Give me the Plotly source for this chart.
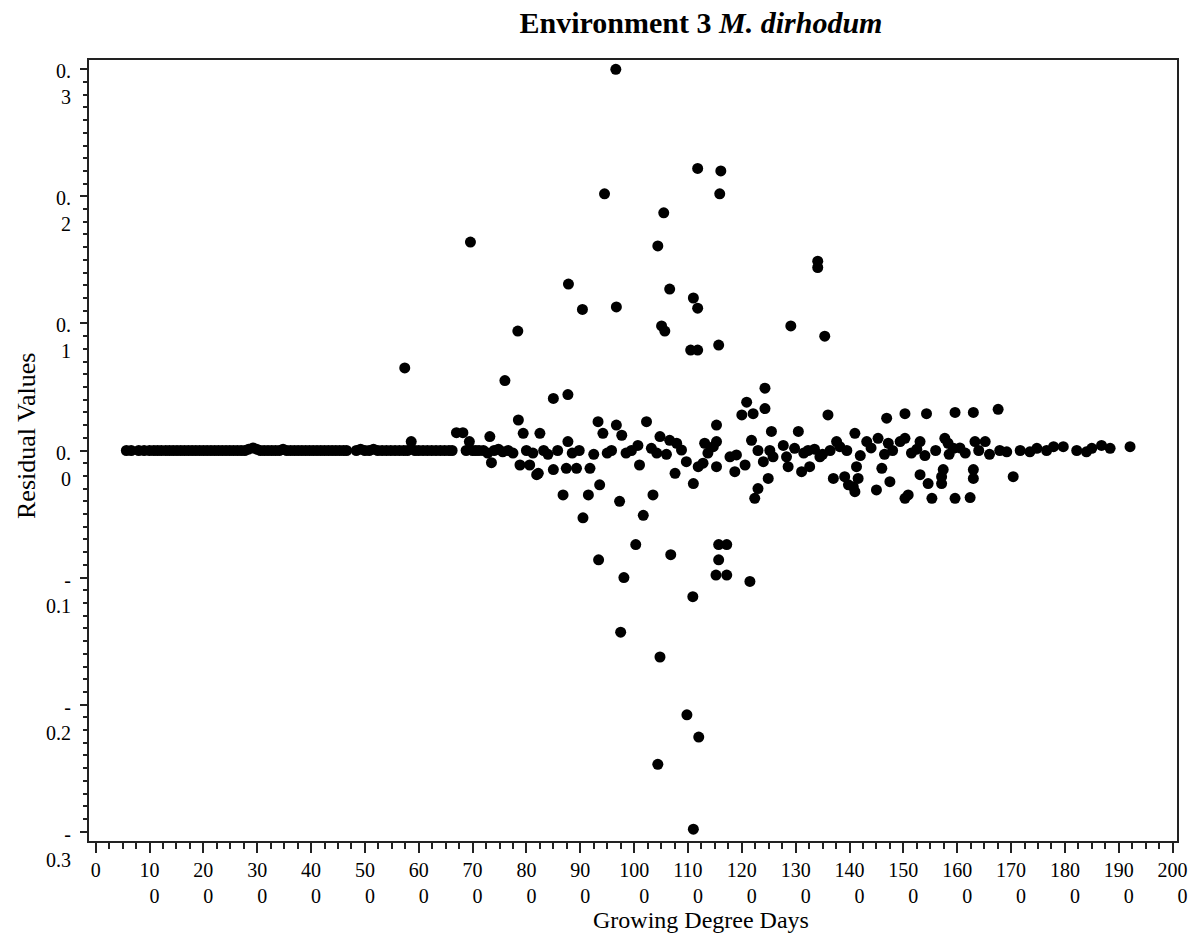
import plotly.graph_objects as go

# Growing degree days (x) and residual values (y)
gdd = [
    57, 66, 80, 90, 100, 108, 115, 122, 130, 137, 144, 151, 158, 165, 172, 179, 186, 193, 200, 207,
    214, 221, 228, 235, 242, 249, 256, 263, 270, 277, 284, 292, 299, 306, 313, 320, 327, 334, 341, 348,
    355, 362, 369, 376, 383, 390, 397, 404, 411, 418, 425, 432, 439, 446, 453, 460, 466,
    484, 492, 500, 508, 516, 524, 532, 540, 548, 556, 564, 572, 579, 586, 593, 600, 608, 616, 624,
    632, 640, 648, 656, 662, 670, 682, 688, 694, 700, 706, 712,
    720, 728, 740, 748, 756, 766, 775, 800, 812, 832, 840, 858, 885, 898, 925, 950, 958, 985, 995, 1060,
    760, 850, 877, 732, 785, 794, 825, 735, 788, 806, 819, 822, 850, 868, 877, 874, 893, 918, 915, 936,
    933, 942, 967, 977, 973, 905, 1007, 1010, 1023, 1017, 1035, 1032, 1048, 1066, 1079, 1088, 1097, 1042,
    1076, 1110, 1119, 1128, 1131, 1147, 1153, 1137, 1153, 1153, 1178, 1190, 1187, 1206, 1200, 1209, 1221,
    1243, 1243, 1218, 1230, 1240, 1252, 1258, 1277, 1283, 1255, 1249, 1230, 1224, 1286, 1298, 1305, 1311,
    1326, 1323, 1345, 1364, 1360, 1376, 1382, 1370, 1391, 1398,
    1407, 1410, 1416, 1413, 1410, 1432, 1453, 1472, 1494, 1503, 1531, 1450, 1460, 1475, 1503, 1509, 1531,
    1546, 1553, 1574, 1571, 1571, 1596, 1624, 1630, 1630, 1704, 1577, 1583, 1593, 1633, 1652,
    1469, 1503, 1543, 1596, 1630, 1676,
    1315, 1335, 1350, 1395, 1420, 1440, 1465, 1480, 1515, 1525, 1540, 1560, 1585, 1605, 1615, 1640, 1660,
    1679, 1692, 1717, 1735, 1748, 1766, 1779, 1797, 1822, 1840, 1850, 1868, 1884, 1921,
    966, 945, 1118, 1161, 1159, 1055, 696, 1044, 1341, 1341, 878, 1066, 1110, 967, 904, 1118, 784, 1051,
    1057, 1291, 1354, 1105, 1118, 1157, 574,
    1110, 1044, 1120, 1098, 1048, 975, 1109, 981, 1215, 1152, 1172, 934, 1068, 1003, 1157, 1172, 1157,
]
resid = [
    0, 0, 0, 0, 0, 0, 0, 0, 0, 0, 0, 0, 0, 0, 0, 0, 0, 0, 0, 0,
    0, 0, 0, 0, 0, 0, 0, 0, 0, 0, 0.001, 0.002, 0.001, 0, 0, 0, 0, 0, 0, 0.001,
    0, 0, 0, 0, 0, 0, 0, 0, 0, 0, 0, 0, 0, 0, 0, 0, 0,
    0, 0.001, 0, 0, 0.001, 0, 0, 0, 0, 0, 0, 0, 0, 0.007, 0, 0, 0, 0, 0,
    0, 0, 0, 0, 0, 0.014, 0.014, 0, 0.007, 0, 0, 0,
    0, -0.002, 0, 0.001, -0.001, 0, -0.002, 0, -0.002, 0, -0.003, 0, -0.002, 0, -0.003, -0.002, 0, -0.002, 0, -0.003,
    0.055, 0.041, 0.044, 0.011, 0.024, 0.0135, 0.0135, -0.0096, -0.0114, -0.0114, -0.019, -0.018, -0.015, -0.035, 0.007, -0.014, -0.014, -0.014, -0.035, -0.027,
    0.0227, 0.0135, 0.020, 0.012, -0.040, -0.053, 0.004, -0.0114, 0.0227, -0.051, -0.035, 0.0017, 0.011, 0.008, 0.0057, 0.0004, -0.0088, -0.002,
    -0.018, -0.026, -0.0127, -0.010, 0.0057, 0.003, 0.007, -0.002, 0.020, -0.0127, -0.005, -0.0035, -0.0167, -0.0114, 0.028, 0.038, 0.029,
    0.049, 0.033, 0.008, 0, -0.0088, 0, -0.005, 0.004, -0.005, 0.015, -0.022, -0.030, -0.0376, -0.0127, 0.0017, 0.015, -0.0167,
    -0.0127, 0, -0.005, 0, 0.028, 0.007, 0.003, -0.022, -0.0206, -0.027,
    -0.0285, -0.0324, -0.022, -0.0127, 0.0135, 0.007, 0.0096, 0.0057, 0.007, 0.0096, 0.007, -0.031, -0.014, -0.0245, -0.0376, -0.035, -0.019,
    -0.026, -0.0376, -0.015, -0.0206, -0.026, -0.0376, -0.037, -0.015, -0.022, -0.0206, 0.0096, 0.0057, 0.0017, 0.007, 0.007,
    0.0254, 0.029, 0.029, 0.030, 0.030, 0.0324,
    -0.002, 0.001, -0.003, 0, -0.004, 0.002, -0.003, 0, -0.002, 0.001, -0.004, 0, -0.003, 0.002, -0.002, 0, -0.003,
    0, -0.001, 0, -0.001, 0.0017, 0, 0.003, 0.003, 0, -0.001, 0.0017, 0.004, 0.0017, 0.003,
    0.300, 0.202, 0.222, 0.220, 0.202, 0.187, 0.164, 0.161, 0.149, 0.144, 0.131, 0.127, 0.120, 0.113, 0.111, 0.112, 0.094, 0.098,
    0.094, 0.098, 0.090, 0.079, 0.079, 0.083, 0.065,
    -0.298, -0.247, -0.2255, -0.208, -0.1625, -0.143, -0.115, -0.100, -0.103, -0.098, -0.098, -0.086, -0.082, -0.074, -0.074, -0.074, -0.086,
]

x_tick_vals = [0, 100, 200, 300, 400, 500, 600, 700, 800, 900, 1000,
               1100, 1200, 1300, 1400, 1500, 1600, 1700, 1800, 1900, 2000]
x_tick_text = ["0"] + [
    f"{v // 10}<br>" + "\u00a0" * (2 * (len(str(v // 10)) - 1)) + "0" for v in x_tick_vals[1:]
]
y_tick_vals = [-0.3, -0.2, -0.1, 0.0, 0.1, 0.2, 0.3]
y_tick_text = ["-<br>0.3", "-<br>0.2", "-<br>0.1", "0.<br>0", "0.<br>1", "0.<br>2", "0.<br>3"]

title_text = "<b>Environment 3 <i>M. dirhodum</i></b>"
x_title = "Growing Degree Days"
y_title = "Residual Values"

FONT = "Liberation Serif"
AX = "#222222"
W, H = 1196, 934
ML, MR, MT, MB = 89, 19, 60, 93
PW, PH = W - ML - MR, H - MT - MB

fig = go.Figure(
    go.Scatter(
        x=gdd, y=resid, mode="markers",
        marker=dict(size=11, color="black", line=dict(width=0)),
        hoverinfo="x+y",
    )
)

fig.update_layout(
    width=W, height=H,
    margin=dict(l=ML, r=MR, t=MT, b=MB),
    paper_bgcolor="white", plot_bgcolor="white",
    showlegend=False,
    font=dict(family=FONT, color="black", size=20),
    title=dict(text=title_text, x=701 / W, xanchor="center", xref="container",
               y=1 - 22 / H, yanchor="middle", yref="container",
               font=dict(family=FONT, size=30, color="black")),
    annotations=[
        dict(text=x_title, xref="paper", yref="paper",
             x=(701 - ML) / PW, y=-(920 - (MT + PH)) / PH,
             xanchor="center", yanchor="middle", showarrow=False,
             font=dict(family=FONT, size=24, color="black")),
        dict(text=y_title, xref="paper", yref="paper",
             x=-(ML - 26) / PW, y=(MT + PH - 436) / PH,
             xanchor="center", yanchor="middle", showarrow=False, textangle=-90,
             font=dict(family=FONT, size=26, color="black")),
    ],
)

fig.update_xaxes(
    range=[-12.4, 2008.2], autorange=False,
    tickmode="array", tickvals=x_tick_vals, ticktext=x_tick_text,
    ticks="outside", ticklen=10, tickwidth=2, tickcolor=AX,
    minor=dict(tick0=0, dtick=25, ticks="outside", ticklen=6, tickwidth=2, tickcolor=AX, showgrid=False),
    showline=True, linewidth=2, linecolor=AX, mirror=True,
    showgrid=False, zeroline=False,
    tickfont=dict(family=FONT, size=20, color="black"),
    ticklabelstandoff=0,
    automargin=False,
)
fig.update_yaxes(
    range=[-0.3073, 0.3073], autorange=False,
    tickmode="array", tickvals=y_tick_vals, ticktext=y_tick_text,
    ticks="outside", ticklen=7, tickwidth=2, tickcolor=AX,
    minor=dict(tick0=0, dtick=0.01, ticks="outside", ticklen=4, tickwidth=2, tickcolor=AX, showgrid=False),
    showline=True, linewidth=2, linecolor=AX, mirror=True,
    showgrid=False, zeroline=False,
    tickfont=dict(family=FONT, size=20, color="black"),
    ticklabelshift=15, ticklabelstandoff=5,
    automargin=False,
)

fig.write_html("out.html")
